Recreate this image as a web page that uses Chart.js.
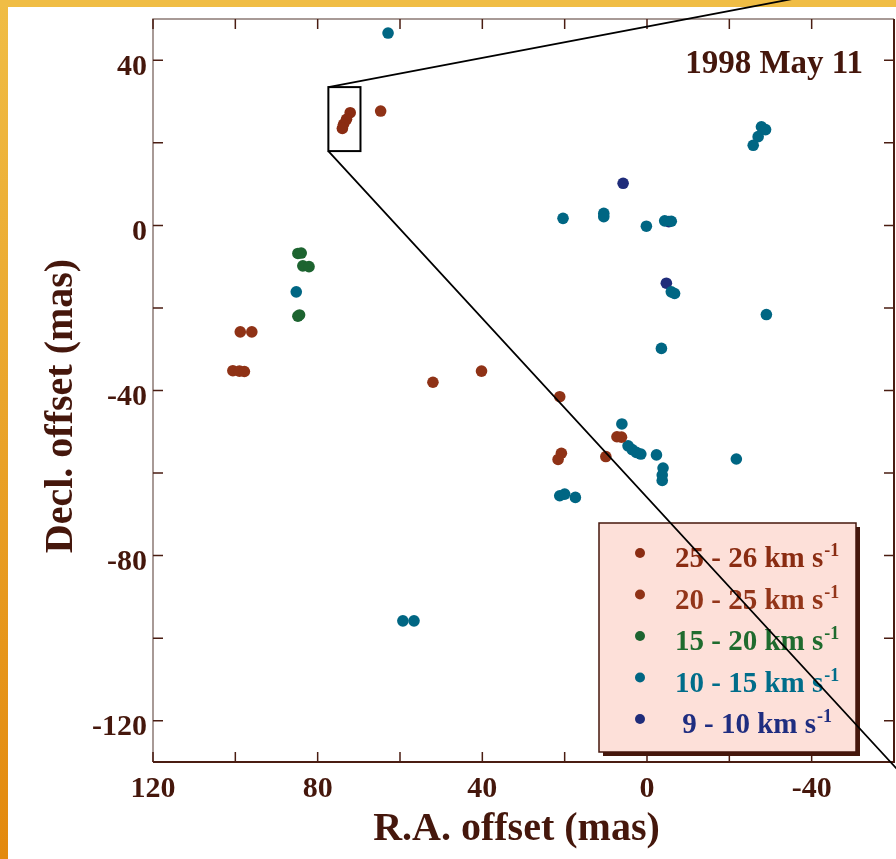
<!DOCTYPE html>
<html>
<head>
<meta charset="utf-8">
<script src="https://cdn.jsdelivr.net/npm/chart.js@4.4.0/dist/chart.umd.min.js"></script>
<style>
  html, body { margin: 0; padding: 0; background: #fff; }
  #wrap { width: 896px; height: 859px; }
</style>
</head>
<body>
<div id="wrap"><canvas id="masers" width="896" height="859"></canvas></div>
<script>
// spot offsets [R.A., Decl.] in mas, one list per velocity range
const ranges = ["25 - 26", "20 - 25", "15 - 20", "10 - 15", " 9 - 10"];

const spots25to26 = [[72.1, 27.3], [73.0, 25.7], [73.7, 24.5], [74.0, 23.5]];

const spots20to25 = [
  [64.7, 27.7], [98.8, -25.8], [96.0, -25.8], [100.6, -35.2], [99.0, -35.3], [97.8, -35.4],
  [52.0, -38.0], [40.2, -35.3], [21.2, -41.5], [7.3, -51.2], [6.2, -51.3], [10.0, -56.0],
  [20.8, -55.2], [21.6, -56.7]
];

const spots15to20 = [[84.8, -6.8], [84.0, -6.7], [83.6, -9.8], [82.1, -10.0], [84.8, -22.0], [84.4, -21.7]];

const spots10to15 = [
  [62.9, 46.6], [85.2, -16.1], [20.4, 1.7], [10.5, 2.9], [10.5, 2.1], [0.15, -0.2],
  [-4.3, 1.1], [-5.9, 1.0], [-5.9, -16.1], [-6.7, -16.5], [-29.0, -21.6], [-3.5, -29.8],
  [6.1, -48.1], [4.6, -53.4], [3.6, -54.3], [2.6, -55.0], [1.5, -55.4], [-2.3, -55.6],
  [-21.7, -56.6], [-3.9, -58.8], [-3.7, -60.5], [-3.7, -61.8], [21.2, -65.5], [20.0, -65.1],
  [17.4, -65.9], [59.3, -95.8], [56.6, -95.8], [-27.8, 23.9], [-28.8, 23.2], [-27.0, 21.5],
  [-25.8, 19.4]
];

const spots9to10 = [[5.8, 10.2], [-5.3, 0.9], [-4.7, -14.0]];

const groups = [spots25to26, spots20to25, spots15to20, spots10to15, spots9to10];
const dotColors = ["#8a2c12", "#8f3216", "#1d6430", "#006683", "#1f2c7a"];
const textColors = ["#8a2c12", "#933519", "#1f6b2e", "#006d8a", "#1f2d80"];

// tick positions (every 20 mas, labelled every 40)
const xTickValues = [120, 100, 80, 60, 40, 20, 0, -20, -40, -60];
const yTickValues = [40, 20, 0, -20, -40, -60, -80, -100, -120];

// zoom box round the northern cluster and the two lines leading off from it
const zoomBox = { xFrom: 69.6, xTo: 77.4, yFrom: 18.0, yTo: 33.5 };
const zoomLines = [
  [[77.4, 33.5], [-60.4, 59.6]],
  [[77.4, 18.0], [-62.0, -133.1]]
];

const ink = "#45170c";
const serif = "'Liberation Serif', 'Times New Roman', serif";

const frame = {
  id: 'frame',
  beforeDraw(chart) {
    const ctx = chart.ctx;
    ctx.save();
    ctx.fillStyle = "#fff";
    ctx.fillRect(0, 0, chart.width, chart.height);
    const g = ctx.createLinearGradient(0, 0, 0, chart.height);
    g.addColorStop(0, "#f0bd45");
    g.addColorStop(1, "#e3890d");
    ctx.fillStyle = g;
    ctx.fillRect(0, 0, 8, chart.height);
    ctx.fillStyle = "#f0bd45";
    ctx.fillRect(0, 0, chart.width, 7);
    ctx.restore();
  }
};

// plot box with inward ticks on all four sides
const boxAxes = {
  id: 'boxAxes',
  afterDatasetsDraw(chart) {
    const { ctx, chartArea: a, scales } = chart;
    ctx.save();
    ctx.lineWidth = 1.5;
    ctx.strokeStyle = "#8c7a74";
    ctx.beginPath();
    ctx.moveTo(a.left, a.bottom); ctx.lineTo(a.left, a.top); ctx.lineTo(a.right, a.top);
    ctx.stroke();
    ctx.strokeStyle = "#4a1d12";
    ctx.lineWidth = 2;
    ctx.beginPath();
    ctx.moveTo(a.left, a.bottom); ctx.lineTo(a.right, a.bottom); ctx.lineTo(a.right, a.top);
    ctx.stroke();
    ctx.lineWidth = 1.5;
    ctx.beginPath();
    scales.x.ticks.forEach(t => {
      const px = scales.x.getPixelForValue(t.value);
      ctx.moveTo(px, a.bottom); ctx.lineTo(px, a.bottom - 10);
      ctx.moveTo(px, a.top); ctx.lineTo(px, a.top + 10);
    });
    scales.y.ticks.forEach(t => {
      const py = scales.y.getPixelForValue(t.value);
      ctx.moveTo(a.left, py); ctx.lineTo(a.left + 10, py);
      ctx.moveTo(a.right, py); ctx.lineTo(a.right - 10, py);
    });
    ctx.stroke();
    ctx.restore();
  }
};

const legendBox = {
  id: 'legendBox',
  afterDatasetsDraw(chart) {
    const { ctx, chartArea: a } = chart;
    const w = 257, h = 229;
    const x0 = a.right - 38 - w;
    const y0 = a.bottom - 10 - h;
    ctx.save();
    ctx.fillStyle = ink;
    ctx.fillRect(x0 + 4, y0 + 4, w, h);
    ctx.fillStyle = "#fde0d9";
    ctx.fillRect(x0, y0, w, h);
    ctx.strokeStyle = ink;
    ctx.lineWidth = 1.5;
    ctx.strokeRect(x0, y0, w, h);
    ranges.forEach((label, i) => {
      const cy = y0 + 30 + i * 41.5;
      ctx.fillStyle = dotColors[i];
      ctx.beginPath();
      ctx.arc(x0 + 41, cy, 5, 0, Math.PI * 2);
      ctx.fill();
      ctx.fillStyle = textColors[i];
      ctx.textAlign = "left";
      ctx.textBaseline = "alphabetic";
      ctx.font = "bold 29px " + serif;
      const main = label + " km s";
      ctx.fillText(main, x0 + 76, cy + 14);
      const wMain = ctx.measureText(main).width;
      ctx.font = "bold 18px " + serif;
      ctx.fillText("-1", x0 + 76 + wMain + 1, cy + 3);
    });
    ctx.restore();
  }
};

const annotations = {
  id: 'annotations',
  afterDraw(chart) {
    const { ctx, chartArea: a, scales } = chart;
    const X = v => scales.x.getPixelForValue(v);
    const Y = v => scales.y.getPixelForValue(v);
    ctx.save();
    ctx.strokeStyle = "#000";
    ctx.lineWidth = 2;
    const bx = X(zoomBox.xTo), by = Y(zoomBox.yTo);
    ctx.strokeRect(bx, by, X(zoomBox.xFrom) - bx, Y(zoomBox.yFrom) - by);
    ctx.lineWidth = 1.8;
    ctx.beginPath();
    zoomLines.forEach(([p, q]) => {
      ctx.moveTo(X(p[0]), Y(p[1]));
      ctx.lineTo(X(q[0]), Y(q[1]));
    });
    ctx.stroke();

    ctx.fillStyle = ink;
    ctx.font = "bold 33px " + serif;
    ctx.textAlign = "right";
    ctx.textBaseline = "alphabetic";
    ctx.fillText("1998 May 11", a.right - 31, a.top + 53.5);

    // axis titles
    ctx.font = "bold 40px " + serif;
    ctx.textAlign = "center";
    ctx.fillText("R.A. offset (mas)", 516.5, 840);
    ctx.translate(71.5, 406);
    ctx.rotate(-Math.PI / 2);
    ctx.fillText("Decl. offset (mas)", 0, 0);
    ctx.restore();
  }
};

const tickFont = { family: serif, size: 30, weight: 'bold' };
const every40 = v => (v % 40 === 0 ? v : '');

new Chart(document.getElementById("masers"), {
  type: 'scatter',
  data: {
    datasets: groups.map((pts, i) => ({
      label: ranges[i] + " km/s",
      data: pts.map(p => ({ x: p[0], y: p[1] })),
      backgroundColor: dotColors[i],
      borderWidth: 0,
      pointRadius: 5.8,
      pointHoverRadius: 5.8
    }))
  },
  options: {
    responsive: false,
    animation: false,
    events: [],
    layout: { autoPadding: false, padding: { left: 0, right: 2, top: 19, bottom: 0 } },
    plugins: {
      legend: { display: false },
      tooltip: { enabled: false }
    },
    scales: {
      x: {
        type: 'linear',
        min: -60,
        max: 120,
        reverse: true,
        grid: { display: false },
        border: { display: false },
        ticks: { callback: every40, font: tickFont, color: ink, padding: 1, maxRotation: 0, autoSkip: false },
        afterBuildTicks: s => { s.ticks = xTickValues.map(v => ({ value: v })); },
        afterFit: s => { s.height = 97; s.paddingLeft = 0; s.paddingRight = 0; }
      },
      y: {
        min: -130,
        max: 50,
        grid: { display: false },
        border: { display: false },
        ticks: { callback: every40, font: tickFont, color: ink, padding: -2, labelOffset: 7, autoSkip: false },
        afterBuildTicks: s => { s.ticks = yTickValues.map(v => ({ value: v })); },
        afterFit: s => { s.width = 153; s.paddingTop = 0; s.paddingBottom = 0; }
      }
    }
  },
  plugins: [frame, boxAxes, legendBox, annotations]
});
</script>
</body>
</html>
